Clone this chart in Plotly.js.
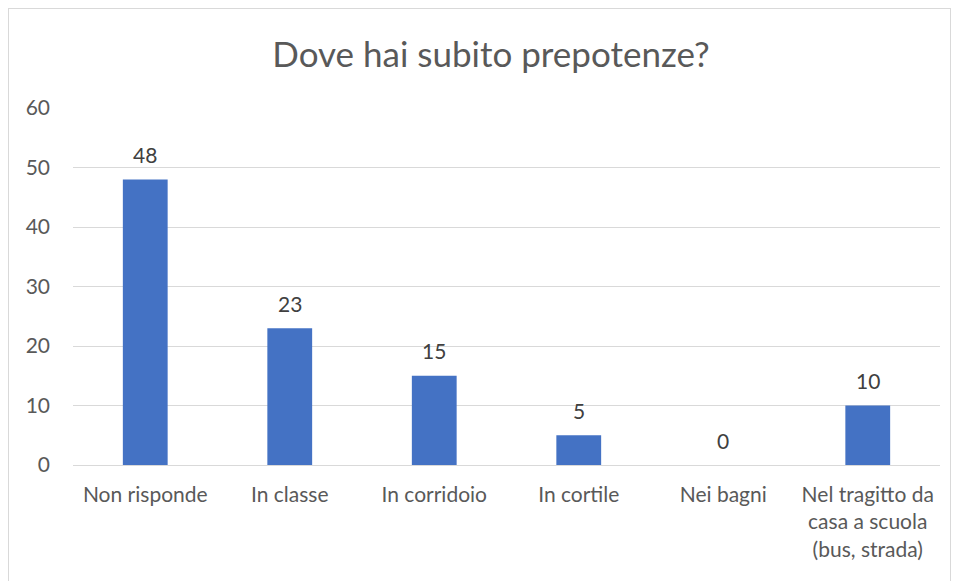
<!DOCTYPE html>
<html>
<head>
<meta charset="utf-8">
<script src="https://cdn.plot.ly/plotly-3.0.1.min.js"></script>
<style>
html,body{margin:0;padding:0;background:#fff;overflow:hidden;}
#wrap{position:relative;width:957px;height:581px;}
#chart{position:absolute;left:0;top:0;width:957px;height:581px;}
#frame{position:absolute;left:8px;top:8px;width:941px;height:600px;border:1px solid #d9d9d9;pointer-events:none;}
</style>
</head>
<body>
<div id="wrap"><div id="chart"></div><div id="frame"></div></div>
<script>
const categories = ["Non risponde", "In classe", "In corridoio", "In cortile", "Nei bagni", "Nel tragitto da<br>casa a scuola<br>(bus, strada)"];
const values = [48, 23, 15, 5, 0, 10];
const yTicks = [0, 10, 20, 30, 40, 50, 60];

const FONT = 'Lato, "Open Sans", sans-serif';

const trace = {
  type: 'bar',
  x: categories,
  y: values,
  marker: {color: '#4472C4'},
  width: 0.31,
  hoverinfo: 'none'
};

const annotations = categories.map((c, i) => ({
  x: c, y: values[i], text: String(values[i]),
  showarrow: false, yanchor: 'middle', yshift: 25,
  font: {family: FONT, size: 21, color: '#404040'}
}));

const layout = {
  width: 957, height: 581,
  margin: {l: 73, r: 17, t: 108, b: 116},
  paper_bgcolor: '#ffffff', plot_bgcolor: '#ffffff',
  showlegend: false,
  font: {family: FONT, color: '#595959', size: 21},
  title: {
    text: 'Dove hai subito prepotenze?',
    x: 491/957, xref: 'container', xanchor: 'center',
    y: 1 - 55/581, yref: 'container', yanchor: 'middle',
    font: {size: 35, color: '#595959', family: FONT}
  },
  xaxis: {
    type: 'category',
    showgrid: false, showline: false, zeroline: false,
    ticks: '', ticklabelstandoff: 15,
    tickfont: {size: 21, color: '#595959'}
  },
  yaxis: {
    range: [0, 60],
    tickvals: yTicks,
    ticktext: yTicks.map(String),
    showgrid: true, gridcolor: '#d9d9d9', gridwidth: 1,
    zeroline: true, zerolinecolor: '#d9d9d9', zerolinewidth: 1,
    showline: false, ticks: '', ticklabelstandoff: 22,
    tickfont: {size: 21, color: '#595959'}
  },
  annotations: annotations
};

Plotly.newPlot('chart', [trace], layout, {displayModeBar: false, staticPlot: true});
</script>
</body>
</html>
